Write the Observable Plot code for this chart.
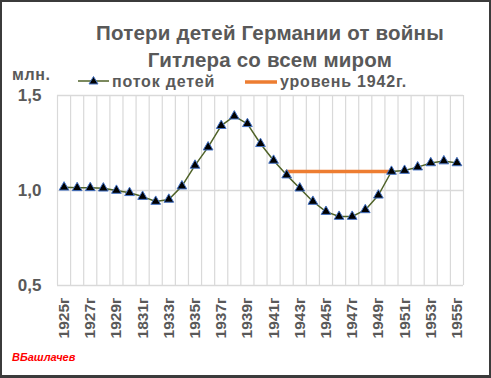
<!DOCTYPE html>
<html>
<head>
<meta charset="utf-8">
<script src="https://cdn.jsdelivr.net/npm/d3@7"></script>
<script src="https://cdn.jsdelivr.net/npm/@observablehq/plot@0.6"></script>
<style>
  html, body { margin: 0; padding: 0; background: #fff; }
  #wrap { position: relative; width: 491px; height: 378px; overflow: hidden; background: #fff;
          font-family: "Liberation Sans", Arial, sans-serif; color: #595959; }
  #chart { position: absolute; left: 0; top: 0; }
  .abs { position: absolute; white-space: nowrap; }
  #title { left: 0; width: 540px; top: 19px; text-align: center; font-weight: bold; font-size: 20.5px;
           letter-spacing: 0.2px; line-height: 27px; }
  #unit { left: 12px; top: 66px; font-weight: bold; font-size: 16px; letter-spacing: 0.6px; }
  .leg { top: 72px; font-weight: bold; font-size: 16px; letter-spacing: 0.8px; line-height: 19px; }
  #caption { left: 12px; top: 351px; font-weight: bold; font-style: italic; font-size: 11px; color: #ff0000; }
  #border { position: absolute; left: 0; top: 0; width: 491px; height: 378px; box-sizing: border-box;
            border: 2px solid #3b3b3b; border-bottom-width: 3px; pointer-events: none; }
  #chart g[aria-label="x-axis tick label"] text { font-weight: bold; font-size: 15.5px; fill: #595959; }
  #chart g[aria-label="y-axis tick label"] text { font-weight: bold; font-size: 17px; fill: #595959; }
</style>
</head>
<body>
<div id="wrap">
  <div id="chart"></div>
  <div id="title" class="abs">Потери детей Германии от войны<br>Гитлера со всем миром</div>
  <div id="unit" class="abs">млн.</div>
  <div class="abs leg" style="left:78px;">
    <svg width="31" height="14" style="vertical-align:-1px">
      <line x1="0" y1="7" x2="31" y2="7" stroke="#4f6228" stroke-width="1.5"></line>
      <path d="M15.5,2.5 L20,10 L11,10 Z" fill="#000" stroke="#4472c4" stroke-width="1"></path>
    </svg><span style="margin-left:3px">поток детей</span>
  </div>
  <div class="abs leg" style="left:245px;">
    <svg width="32" height="14" style="vertical-align:-1px">
      <line x1="0" y1="8" x2="32" y2="8" stroke="#ed7d31" stroke-width="3.5"></line>
    </svg><span style="margin-left:3px">уровень 1942г.</span>
  </div>
  <div id="caption" class="abs">ВБашлачев</div>
  <div id="border"></div>
</div>
<script>
// categories (years)
const years = [1925, 1926, 1927, 1928, 1929, 1930, 1931, 1932, 1933, 1934, 1935,
               1936, 1937, 1938, 1939, 1940, 1941, 1942, 1943, 1944, 1945,
               1946, 1947, 1948, 1949, 1950, 1951, 1952, 1953, 1954, 1955];
// series: "поток детей", millions
const children = [1.017, 1.014, 1.014, 1.012, 1.000, 0.988, 0.968, 0.942, 0.953, 1.023, 1.132,
                  1.228, 1.341, 1.391, 1.351, 1.246, 1.158, 1.081, 1.012, 0.942, 0.889,
                  0.863, 0.863, 0.898, 0.975, 1.100, 1.105, 1.123, 1.145, 1.155, 1.145];
// series: "уровень 1942г."
const levelYears = [1942, 1950];
const levelValue = 1.10;
// tick labels
const yTicks = [0.5, 1.0, 1.5];
const xTickYears = [1925, 1927, 1929, 1931, 1933, 1935, 1937, 1939, 1941, 1943, 1945, 1947, 1949, 1951, 1953, 1955];
const xTickLabels = ["1925г", "1927г", "1929г", "1831г", "1933г", "1935г", "1937г", "1939г",
                     "1941г", "1943г", "1945г", "1947г", "1949г", "1951г", "1953г", "1955г"];

const data = years.map((year, i) => ({year, v: children[i]}));
const level = levelYears.map(year => ({year, v: levelValue}));
const first = years[0], last = years[years.length - 1];
const gridX = [...years.map(y => y - 0.5), last + 0.5];

const chart = Plot.plot({
  width: 491,
  height: 378,
  marginLeft: 57,
  marginRight: 28,
  marginTop: 95,
  marginBottom: 93,
  style: {background: "transparent", color: "#595959", fontFamily: "Liberation Sans, Arial, sans-serif"},
  x: {type: "linear", domain: [first - 0.5, last + 0.5]},
  y: {domain: [yTicks[0], yTicks[yTicks.length - 1]]},
  marks: [
    Plot.ruleX(gridX, {y1: yTicks[0], y2: yTicks[yTicks.length - 1], stroke: "#d9d9d9", strokeWidth: 1.2}),
    Plot.ruleY(yTicks, {stroke: "#d9d9d9", strokeWidth: 1.5}),
    Plot.line(level, {x: "year", y: "v", stroke: "#ed7d31", strokeWidth: 3.5}),
    Plot.line(data, {x: "year", y: "v", stroke: "#4f6228", strokeWidth: 1.5}),
    Plot.dot(data, {x: "year", y: "v", symbol: "triangle", r: 3.6, fill: "#000", stroke: "#4472c4", strokeWidth: 1}),
    Plot.axisX({ticks: xTickYears, tickFormat: d => xTickLabels[xTickYears.indexOf(d)], tickRotate: -90,
                tickSize: 0, tickPadding: 12, label: null}),
    Plot.axisY({ticks: yTicks, tickFormat: d => d.toFixed(1).replace(".", ","), tickSize: 0,
                tickPadding: 16, label: null})
  ]
});
document.getElementById("chart").appendChild(chart);
</script>
</body>
</html>
